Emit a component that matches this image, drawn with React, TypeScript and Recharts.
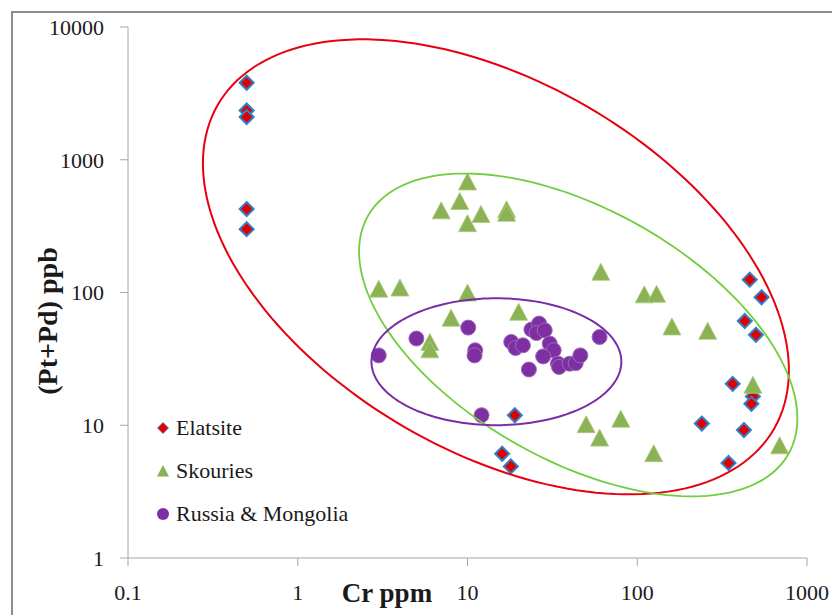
import React from "react";
import {
  ScatterChart,
  Scatter,
  XAxis,
  YAxis,
  Legend,
  Label,
} from "recharts";

// ── Data (Cr ppm vs Pt+Pd ppb) ────────────────────────────────────────────────

const X_TICKS = [0.1, 1, 10, 100, 1000];
const Y_TICKS = [1, 10, 100, 1000, 10000];
const SERIES_ORDER = ["Elatsite", "Skouries", "Russia & Mongolia"];

const ELATSITE = [
  { x: 0.5, y: 3800 },
  { x: 0.5, y: 2350 },
  { x: 0.5, y: 2100 },
  { x: 0.5, y: 425 },
  { x: 0.5, y: 300 },
  { x: 460, y: 125 },
  { x: 540, y: 92 },
  { x: 430, y: 61 },
  { x: 500, y: 48 },
  { x: 365, y: 20.5 },
  { x: 480, y: 16.5 },
  { x: 470, y: 14.5 },
  { x: 240, y: 10.3 },
  { x: 425, y: 9.2 },
  { x: 345, y: 5.2 },
  { x: 19, y: 11.9 },
  { x: 16, y: 6.1 },
  { x: 18, y: 4.9 },
];

const SKOURIES = [
  { x: 10, y: 680 },
  { x: 9, y: 485 },
  { x: 7, y: 412 },
  { x: 12, y: 387 },
  { x: 10, y: 330 },
  { x: 17, y: 420 },
  { x: 17, y: 395 },
  { x: 3, y: 106 },
  { x: 4, y: 108 },
  { x: 10, y: 99 },
  { x: 8, y: 64 },
  { x: 20, y: 71 },
  { x: 6, y: 42 },
  { x: 6, y: 37 },
  { x: 61, y: 142 },
  { x: 110, y: 96 },
  { x: 130, y: 97 },
  { x: 160, y: 55 },
  { x: 260, y: 51 },
  { x: 480, y: 20 },
  { x: 690, y: 7 },
  { x: 50, y: 10.1 },
  { x: 80, y: 11.1 },
  { x: 60, y: 8 },
  { x: 125, y: 6.1 },
];

const RUSSIA_MONGOLIA = [
  { x: 3, y: 33.6 },
  { x: 5, y: 45 },
  { x: 10.1, y: 54.4 },
  { x: 11.1, y: 36.7 },
  { x: 11, y: 33.6 },
  { x: 12.1, y: 11.9 },
  { x: 18.1, y: 42.4 },
  { x: 19.2, y: 38.2 },
  { x: 21.2, y: 40 },
  { x: 23, y: 26.3 },
  { x: 23.8, y: 52.6 },
  { x: 26.4, y: 58.3 },
  { x: 25.5, y: 49.5 },
  { x: 28.5, y: 51.9 },
  { x: 30.5, y: 41.2 },
  { x: 32.2, y: 36.7 },
  { x: 27.9, y: 33 },
  { x: 34.1, y: 29.1 },
  { x: 34.6, y: 27.5 },
  { x: 40, y: 29.1 },
  { x: 43.4, y: 29.4 },
  { x: 46.2, y: 33.6 },
  { x: 60, y: 46.2 },
];

// field ellipses in log space: centre (data units), half-spans (decades), tilt correlation
const RED_FIELD = { cx: 14.7, cy: 156, du: 1.726, dv: 1.714, r: -0.455 };
const GREEN_FIELD = { cx: 44.9, cy: 47.9, du: 1.291, dv: 1.216, r: -0.517 };
const PURPLE_FIELD = { cx: 14.8, cy: 30.1, du: 0.736, dv: 0.478, r: 0 };

type Field = { cx: number; cy: number; du: number; dv: number; r: number };

function fieldOutline(f: Field, steps = 180) {
  const u0 = Math.log10(f.cx);
  const v0 = Math.log10(f.cy);
  const s = Math.sqrt(1 - f.r * f.r);
  const pts: { x: number; y: number }[] = [];
  for (let i = 0; i <= steps; i++) {
    const t = (i / steps) * Math.PI * 2;
    const u = u0 + f.du * Math.cos(t);
    const v = v0 + f.dv * (f.r * Math.cos(t) + s * Math.sin(t));
    pts.push({ x: Math.pow(10, u), y: Math.pow(10, v) });
  }
  return pts;
}

// ── Markers ───────────────────────────────────────────────────────────────────

const RED = "#e00000";
const BLUE_EDGE = "#2f80c8";
const GREEN = "#8bb253";
const PURPLE = "#7d2fa3";

const FONT = '"Liberation Serif", "Times New Roman", serif';

function DiamondShape(props: any) {
  const { cx, cy } = props;
  const h = 7;
  return (
    <polygon
      points={`${cx},${cy - h} ${cx + h},${cy} ${cx},${cy + h} ${cx - h},${cy}`}
      fill={RED}
      stroke={BLUE_EDGE}
      strokeWidth={2}
    />
  );
}

function TriangleShape(props: any) {
  const { cx, cy } = props;
  return (
    <polygon
      points={`${cx},${cy - 9} ${cx + 9},${cy + 8} ${cx - 9},${cy + 8}`}
      fill={GREEN}
      stroke="#a9c982"
      strokeWidth={0.8}
    />
  );
}

function CircleShape(props: any) {
  const { cx, cy } = props;
  return <circle cx={cx} cy={cy} r={7.5} fill={PURPLE} stroke="#9a6ab8" strokeWidth={1} />;
}

const NoShape = () => <g />;

function LegendMarker({ name }: { name: string }) {
  if (name === "Elatsite")
    return (
      <svg width={16} height={16}>
        <polygon points="8,2.5 13.5,8 8,13.5 2.5,8" fill={RED} stroke={BLUE_EDGE} strokeWidth={0.8} />
      </svg>
    );
  if (name === "Skouries")
    return (
      <svg width={16} height={16}>
        <polygon points="8,2 14,13.5 2,13.5" fill={GREEN} />
      </svg>
    );
  return (
    <svg width={16} height={16}>
      <circle cx={8} cy={8} r={6} fill={PURPLE} />
    </svg>
  );
}

function LegendBox(props: any) {
  const items = (props.payload ?? [])
    .filter((p: any) => SERIES_ORDER.includes(p.value))
    .sort((a: any, b: any) => SERIES_ORDER.indexOf(a.value) - SERIES_ORDER.indexOf(b.value));
  return (
    <div style={{ fontFamily: FONT, fontSize: 22, color: "#1a1a1a" }}>
      {items.map((p: any) => (
        <div key={p.value} style={{ display: "flex", alignItems: "center", height: 43 }}>
          <LegendMarker name={p.value} />
          <span style={{ marginLeft: 5, whiteSpace: "nowrap" }}>{p.value}</span>
        </div>
      ))}
    </div>
  );
}

// ── Chart ─────────────────────────────────────────────────────────────────────

export default function App() {
  const tick = { fontSize: 22, fontFamily: FONT, fill: "#1a1a1a" };
  const axisStroke = "#a6a6a6";

  return (
    <div style={{ position: "absolute", left: 0, top: 0, width: 832, height: 615, overflow: "hidden", background: "#fff" }}>
      <div
        style={{
          position: "absolute",
          left: 11,
          top: 11,
          width: 821,
          height: 604,
          borderLeft: "2px solid #8c8c8c",
          borderTop: "2px solid #8c8c8c",
        }}
      />
      <div style={{ position: "absolute", left: 0, top: 0 }}>
        <ScatterChart width={832} height={615} margin={{ top: 27, right: 25, left: 0, bottom: 0 }}>
          <XAxis
            type="number"
            dataKey="x"
            scale="log"
            domain={[0.1, 1000]}
            ticks={X_TICKS}
            allowDataOverflow
            height={57}
            stroke={axisStroke}
            tickSize={8}
            tickMargin={18}
            tick={tick}
            tickFormatter={(v) => String(v)}
          >
            <Label
              content={() => (
                <text x={387} y={602} textAnchor="middle" fontFamily={FONT} fontWeight="bold" fontSize={27} fill="#1a1a1a">
                  Cr ppm
                </text>
              )}
            />
          </XAxis>
          <YAxis
            type="number"
            dataKey="y"
            scale="log"
            domain={[1, 10000]}
            ticks={Y_TICKS}
            allowDataOverflow
            width={128}
            stroke={axisStroke}
            tickSize={8}
            tickMargin={16}
            tick={tick}
            tickFormatter={(v) => String(v)}
          >
            <Label
              content={() => (
                <text
                  x={47}
                  y={321}
                  transform="rotate(-90 47 321)"
                  textAnchor="middle"
                  dominantBaseline="central"
                  fontFamily={FONT}
                  fontWeight="bold"
                  fontSize={28}
                  fill="#1a1a1a"
                >
                  (Pt+Pd) ppb
                </text>
              )}
            />
          </YAxis>
          <Legend
            layout="vertical"
            align="center"
            verticalAlign="middle"
            content={<LegendBox />}
            wrapperStyle={{ position: "absolute", left: 155, top: 406, width: 260, height: 130 }}
          />
          <Scatter name="Elatsite" data={ELATSITE} shape={<DiamondShape />} isAnimationActive={false} />
          <Scatter name="Skouries" data={SKOURIES} shape={<TriangleShape />} isAnimationActive={false} />
          <Scatter name="Russia & Mongolia" data={RUSSIA_MONGOLIA} shape={<CircleShape />} isAnimationActive={false} />
          <Scatter
            name="red-field"
            data={fieldOutline(RED_FIELD)}
            line={{ stroke: "#e8000e", strokeWidth: 2 }}
            lineType="joint"
            shape={NoShape}
            legendType="none"
            isAnimationActive={false}
          />
          <Scatter
            name="green-field"
            data={fieldOutline(GREEN_FIELD)}
            line={{ stroke: "#6fcd3e", strokeWidth: 1.8 }}
            lineType="joint"
            shape={NoShape}
            legendType="none"
            isAnimationActive={false}
          />
          <Scatter
            name="purple-field"
            data={fieldOutline(PURPLE_FIELD)}
            line={{ stroke: "#7b2ca6", strokeWidth: 2 }}
            lineType="joint"
            shape={NoShape}
            legendType="none"
            isAnimationActive={false}
          />
        </ScatterChart>
      </div>
    </div>
  );
}
